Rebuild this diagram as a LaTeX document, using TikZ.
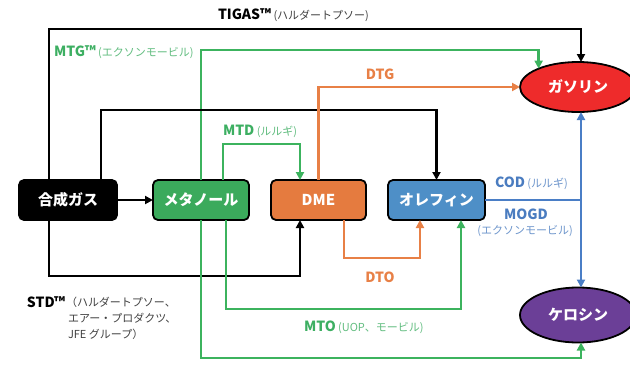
\documentclass[tikz,border=0pt]{standalone}
\usepackage{fontspec}
\setmainfont{Noto Sans CJK JP}
\usetikzlibrary{arrows.meta,shapes.geometric}
\definecolor{gfill}{HTML}{3BAA5C}
\definecolor{gline}{HTML}{3CB35E}
\definecolor{gtext}{HTML}{3DAF62}
\definecolor{gsub}{HTML}{62BD80}
\definecolor{ofill}{HTML}{E57B3F}
\definecolor{oline}{HTML}{E88046}
\definecolor{bfill}{HTML}{4E8FC7}
\definecolor{bline}{HTML}{4A7EC6}
\definecolor{btext}{HTML}{4A7CC0}
\definecolor{bsub}{HTML}{6E96CC}
\definecolor{redf}{HTML}{EE2B2B}
\definecolor{purf}{HTML}{6B3F97}
\definecolor{tgray}{HTML}{404040}
\begin{document}
\begin{tikzpicture}[x=1pt,y=-1pt,
  every node/.style={inner sep=0pt, outer sep=0pt},
  box/.style={draw=black, line width=1.8pt, rounded corners=5pt, minimum height=40pt, text=white, font=\fontsize{15}{18}\selectfont\bfseries},
  oval/.style={ellipse, draw=black, line width=1.8pt, text=white, font=\fontsize{15}{18}\selectfont\bfseries},
  conn/.style={line width=2.4pt, -{Triangle[length=8pt,width=8pt]}},
  plainline/.style={line width=2.4pt},
  lab/.style={font=\fontsize{14}{16}\selectfont\bfseries},
  sub/.style={font=\fontsize{11}{14}\selectfont},
]
\useasboundingbox (0,0) rectangle (630,370);
\fill[white] (0,0) rectangle (630,370);

\node[box, fill=black, minimum width=98pt] (syn) at (68,200) {合成ガス};
\node[box, fill=gfill, minimum width=96pt] (meth) at (201,200) {メタノール};
\node[box, fill=ofill, minimum width=95pt] (dme) at (318.5,200) {DME};
\node[box, fill=bfill, minimum width=97pt] (ole) at (436.5,200) {オレフィン};
\node[oval, fill=redf, minimum width=116pt, minimum height=50pt] (gas) at (578,87) {ガソリン};
\node[oval, fill=purf, minimum width=116pt, minimum height=55pt] (ker) at (578,315) {ケロシン};

% connectors
\draw[conn] ([xshift=-19pt]syn.north) -- ++(0,-151) -| ([xshift=3pt]gas.north);
\draw[conn, draw=gline] (meth.north) -- ++(0,-130) -| (gas.155);
\draw[conn] ([xshift=33pt]syn.north) -- ++(0,-70) -| (ole.north);
\draw[conn, draw=gline] ([xshift=22pt]meth.north) -- ++(0,-36) -| ([xshift=-18.5pt]dme.north);
\draw[conn, draw=oline] (dme.north) |- (gas.west);
\draw[conn] (syn) -- (meth);
\draw[conn] ([xshift=-19pt]syn.south) -- ++(0,56) -| ([xshift=-18.5pt]dme.south);
\draw[conn, draw=oline] ([xshift=25.5pt]dme.south) -- ++(0,38) -| ([xshift=-16.5pt]ole.south);
\draw[conn, draw=gline] ([xshift=25pt]meth.south) -- ++(0,89) -| ([xshift=24.5pt]ole.south);
\draw[conn, draw=gline] (meth.south) -- ++(0,138) -| ([xshift=3pt]ker.south);
\coordinate (j) at (581,200);
\draw[plainline, draw=bline] (ole.east) -- (j);
\draw[conn, draw=bline] (j) -- ([xshift=3pt]gas.south);
\draw[conn, draw=bline] (j) -- ([xshift=3pt]ker.north);

% labels
\node[lab, anchor=west] (ltigas) at (218,15) {TIGAS™\,\textcolor{tgray}{\mdseries\fontsize{11}{14}\selectfont(ハルダートプソー)}};
\node[lab, anchor=west, text=gtext] (lmtg) at (54,52) {MTG™\,\textcolor{gsub}{\mdseries\fontsize{11}{14}\selectfont(エクソンモービル)}};
\node[lab, anchor=west, text=gtext] (lmtd) at (223,131) {MTD\,\textcolor{gsub}{\mdseries\fontsize{11}{14}\selectfont(ルルギ)}};
\node[lab, text=oline] (ldtg) at (380,74) {DTG};
\node[lab, anchor=west, text=btext] (lcod) at (495,183) {COD\,\textcolor{bsub}{\mdseries\fontsize{11}{14}\selectfont(ルルギ)}};
\node[lab, text=btext] (lmogd) at (526,214) {MOGD};
\node[sub, text=bsub] (lexx) at (525,231) {(エクソンモービル)};
\node[lab, text=oline] (ldto) at (380,277) {DTO};
\node[lab, anchor=west, text=gtext] (lmto) at (304,327) {MTO\,\textcolor{gsub}{\mdseries\fontsize{11}{14}\selectfont(UOP、モービル)}};
\node[lab, anchor=west] (lstd) at (27,302) {STD™};
\node[sub, anchor=west, text=tgray] (lstd1) at (66,302) {（ハルダートプソー、};
\node[sub, anchor=west, text=tgray] (lstd2) at (68,318) {エアー・プロダクツ、};
\node[sub, anchor=west, text=tgray] (lstd3) at (68,334) {JFE グループ）};
\end{tikzpicture}
\end{document}
